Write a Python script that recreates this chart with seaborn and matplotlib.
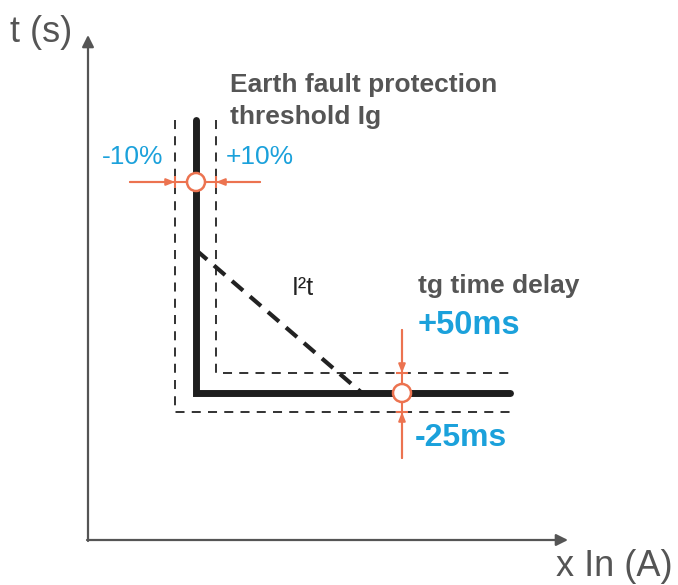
import pandas as pd
import matplotlib as mpl
import matplotlib.pyplot as plt
import seaborn as sns
from matplotlib.patches import Circle

sns.set_style("white")
mpl.rcParams['font.family'] = ['Liberation Sans', 'DejaVu Sans']

ORANGE = "#EC7350"
BLUE = "#1BA1DB"
GREY = "#555555"

# schematic data (x = current, t = time, in drawing units)
curve_x = [196, 196, 510]
curve_t = [465, 192, 192]

low_band_x = [175, 175, 515]
low_band_t = [465, 173, 173]

high_band_x = [216, 216, 515]
high_band_t = [465, 212, 212]

i2t_x = [196, 362]
i2t_t = [335, 192]

ig_point = (196, 403)
tg_point = (402, 192)

fig = plt.figure(figsize=(6.78, 5.85), dpi=100)
ax = fig.add_axes([0, 0, 1, 1])

# axes with arrows
ax.annotate("", xy=(88, 550), xytext=(88, 44),
            arrowprops=dict(arrowstyle="-|>,head_length=0.7,head_width=0.35",
                            color=GREY, lw=1.6, shrinkA=0, shrinkB=0))
ax.annotate("", xy=(568, 45), xytext=(87, 45),
            arrowprops=dict(arrowstyle="-|>,head_length=0.7,head_width=0.35",
                            color=GREY, lw=1.6, shrinkA=0, shrinkB=0))
ax.text(10, 553, "t (s)", fontsize=26, color=GREY, va="center", ha="left")
ax.text(556, 19, "x In (A)", fontsize=26, color=GREY, va="center", ha="left")

# tolerance bands
df_low = pd.DataFrame({"x": low_band_x, "t": low_band_t})
df_high = pd.DataFrame({"x": high_band_x, "t": high_band_t})
for d in (df_low, df_high):
    sns.lineplot(data=d, x="x", y="t", sort=False, estimator=None,
                 color="#222222", lw=1.3, ax=ax)
    ax.lines[-1].set_dashes([5, 4])

# I2t slope
df_i2t = pd.DataFrame({"x": i2t_x, "t": i2t_t})
sns.lineplot(data=df_i2t, x="x", y="t", sort=False, estimator=None,
             color="#222222", lw=3, ax=ax)
ax.lines[-1].set_dashes([3.5, 2.2])

# main curve
df_curve = pd.DataFrame({"x": curve_x, "t": curve_t})
sns.lineplot(data=df_curve, x="x", y="t", sort=False, estimator=None,
             color="#1e1e1e", lw=5, ax=ax, solid_capstyle="round",
             solid_joinstyle="miter")

ax.set_xlim(0, 678)
ax.set_ylim(0, 585)
ax.axis("off")

# Ig tolerance arrows
arr = dict(arrowstyle="-|>,head_length=0.5,head_width=0.2", color=ORANGE,
           lw=1.5, shrinkA=0, shrinkB=0)
ax.plot([130, 260], [ig_point[1], ig_point[1]], color=ORANGE, lw=1.5)
ax.annotate("", xy=(low_band_x[0], ig_point[1]), xytext=(130, ig_point[1]), arrowprops=arr)
ax.annotate("", xy=(high_band_x[0], ig_point[1]), xytext=(260, ig_point[1]), arrowprops=arr)
ax.plot([low_band_x[0], high_band_x[0]], [ig_point[1], ig_point[1]], marker="|",
        ls="none", color=ORANGE, ms=9, mew=1.5)

# tg tolerance arrows
ax.plot([tg_point[0], tg_point[0]], [255, 127], color=ORANGE, lw=1.5)
ax.annotate("", xy=(tg_point[0], high_band_t[-1]), xytext=(tg_point[0], 255), arrowprops=arr)
ax.annotate("", xy=(tg_point[0], low_band_t[-1]), xytext=(tg_point[0], 127), arrowprops=arr)
ax.plot([tg_point[0], tg_point[0]], [high_band_t[-1], low_band_t[-1]], marker="_",
        ls="none", color=ORANGE, ms=9, mew=1.5)

for p in (ig_point, tg_point):
    ax.add_patch(Circle(p, 9, facecolor="white", edgecolor=ORANGE, lw=1.8, zorder=5))

# labels
ax.text(230, 500, "Earth fault protection", fontsize=19, fontweight="bold",
        color=GREY, va="center")
ax.text(230, 468, "threshold Ig", fontsize=19, fontweight="bold",
        color=GREY, va="center")
ax.text(102, 428, "-10%", fontsize=19, color=BLUE, va="center")
ax.text(226, 428, "+10%", fontsize=19, color=BLUE, va="center")
ax.text(292, 297, "I²t", fontsize=18, color="#222222", va="center")
ax.text(418, 299, "tg time delay", fontsize=19, fontweight="bold",
        color=GREY, va="center")
ax.text(418, 260, "+50ms", fontsize=23.5, fontweight="bold", color=BLUE, va="center")
ax.text(415, 147, "-25ms", fontsize=23, fontweight="bold", color=BLUE, va="center")

plt.savefig("out.png", dpi=100)
plt.close()
